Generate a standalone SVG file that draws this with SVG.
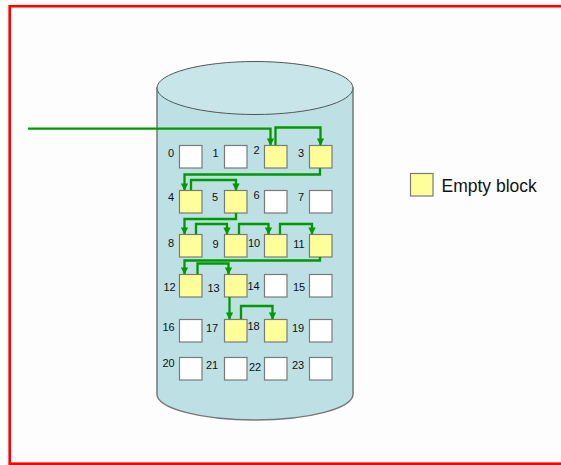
<svg xmlns="http://www.w3.org/2000/svg" width="561" height="465" viewBox="0 0 561 465">
  <defs>
    <marker id="arr" viewBox="0 0 10 10" refX="9" refY="5" markerWidth="3.2" markerHeight="3.2" orient="auto" markerUnits="strokeWidth">
      <path d="M0,0 L10,5 L0,10 Z" fill="#009900"/>
    </marker>
    <style>
      .blk { stroke: #7a7a7a; stroke-width: 1.2; }
      .free { fill: #ffffff; }
      .empty { fill: #ffff99; }
      .num { font-family: "Liberation Sans", Arial, sans-serif; font-size: 11px; fill: #111; text-anchor: middle; }
      .lnk { fill: none; stroke: #009900; stroke-width: 2.3; stroke-linejoin: miter; }
      .lnka { fill: none; stroke: #009900; stroke-width: 2.3; marker-end: url(#arr); }
    </style>
  </defs>

  <!-- frame -->
  <rect x="0" y="0" width="561" height="465" fill="#ffffff"/>
  <rect x="9.7" y="6.2" width="560" height="457.5" fill="#fdfdfd" stroke="#ff0000" stroke-width="2.6"/>

  <!-- disk cylinder -->
  <g id="disk">
    <path d="M157,88 L157,394 A98,26 0 0 0 353,394 L353,88 Z" fill="#bce0e4" stroke="#777" stroke-width="1.5"/>
    <ellipse cx="255" cy="88" rx="98" ry="26.5" fill="#c8e6e9" stroke="#555" stroke-width="1"/>
  </g>

  <!-- blocks -->
  <g id="b0"><rect class="blk free" x="179.5" y="145.5" width="22.5" height="22.5"/><text class="num" x="171" y="157">0</text></g>
  <g id="b1"><rect class="blk free" x="224.5" y="145.5" width="22.5" height="22.5"/><text class="num" x="215.5" y="157">1</text></g>
  <g id="b2"><rect class="blk empty" x="264.5" y="145.5" width="22.5" height="22.5"/><text class="num" x="256.5" y="154">2</text></g>
  <g id="b3"><rect class="blk empty" x="309.5" y="145.5" width="22.5" height="22.5"/><text class="num" x="301" y="157">3</text></g>

  <g id="b4"><rect class="blk empty" x="179.5" y="190.5" width="22.5" height="22.5"/><text class="num" x="171" y="201">4</text></g>
  <g id="b5"><rect class="blk empty" x="224.5" y="190.5" width="22.5" height="22.5"/><text class="num" x="215" y="201">5</text></g>
  <g id="b6"><rect class="blk free" x="264.5" y="190.5" width="22.5" height="22.5"/><text class="num" x="256.5" y="199">6</text></g>
  <g id="b7"><rect class="blk free" x="309.5" y="190.5" width="22.5" height="22.5"/><text class="num" x="301" y="201">7</text></g>

  <g id="b8"><rect class="blk empty" x="179.5" y="234.5" width="22.5" height="22.5"/><text class="num" x="171" y="247">8</text></g>
  <g id="b9"><rect class="blk empty" x="224.5" y="234.5" width="22.5" height="22.5"/><text class="num" x="215.5" y="248">9</text></g>
  <g id="b10"><rect class="blk empty" x="264.5" y="234.5" width="22.5" height="22.5"/><text class="num" x="254" y="247">10</text></g>
  <g id="b11"><rect class="blk empty" x="309.5" y="234.5" width="22.5" height="22.5"/><text class="num" x="299" y="248">11</text></g>

  <g id="b12"><rect class="blk empty" x="179.5" y="274.5" width="22.5" height="22.5"/><text class="num" x="169.5" y="291">12</text></g>
  <g id="b13"><rect class="blk empty" x="224.5" y="274.5" width="22.5" height="22.5"/><text class="num" x="213.5" y="291.5">13</text></g>
  <g id="b14"><rect class="blk free" x="264.5" y="274.5" width="22.5" height="22.5"/><text class="num" x="253.5" y="290">14</text></g>
  <g id="b15"><rect class="blk free" x="309.5" y="274.5" width="22.5" height="22.5"/><text class="num" x="299" y="291">15</text></g>

  <g id="b16"><rect class="blk free" x="179.5" y="319.5" width="22.5" height="22.5"/><text class="num" x="168.5" y="330.5">16</text></g>
  <g id="b17"><rect class="blk empty" x="224.5" y="319.5" width="22.5" height="22.5"/><text class="num" x="212" y="332">17</text></g>
  <g id="b18"><rect class="blk empty" x="264.5" y="319.5" width="22.5" height="22.5"/><text class="num" x="253.5" y="330">18</text></g>
  <g id="b19"><rect class="blk free" x="309.5" y="319.5" width="22.5" height="22.5"/><text class="num" x="298" y="332">19</text></g>

  <g id="b20"><rect class="blk free" x="179.5" y="357.5" width="22.5" height="22.5"/><text class="num" x="168.5" y="367">20</text></g>
  <g id="b21"><rect class="blk free" x="224.5" y="357.5" width="22.5" height="22.5"/><text class="num" x="212" y="369">21</text></g>
  <g id="b22"><rect class="blk free" x="264.5" y="357.5" width="22.5" height="22.5"/><text class="num" x="255" y="371">22</text></g>
  <g id="b23"><rect class="blk free" x="309.5" y="357.5" width="22.5" height="22.5"/><text class="num" x="298" y="369">23</text></g>

  <!-- free-list links -->
  <g id="links">
    <path class="lnka" d="M28,128.7 L270.5,128.7 L270.5,145"/>
    <path class="lnka" d="M275.5,145 L275.5,127.5 L320.5,127.5 L320.5,145"/>
    <path class="lnka" d="M320,168 L320,174.5 L184.5,174.5 L184.5,190"/>
    <path class="lnka" d="M191,190 L191,180 L236,180 L236,190"/>
    <path class="lnka" d="M236,213 L236,219 L184.5,219 L184.5,234"/>
    <path class="lnka" d="M196,234 L196,224 L227,224 L227,234"/>
    <path class="lnka" d="M239,234 L239,224 L268.5,224 L268.5,234"/>
    <path class="lnka" d="M280,234 L280,224 L312,224 L312,234"/>
    <path class="lnka" d="M320,257 L320,260.5 L184.5,260.5 L184.5,274"/>
    <path class="lnka" d="M197.5,274 L197.5,263.5 L228.5,263.5 L228.5,274"/>
    <path class="lnka" d="M229.5,297 L229.5,319"/>
    <path class="lnka" d="M241,319 L241,306 L272.5,306 L272.5,319"/>
  </g>

  <!-- legend -->
  <g id="legend">
    <rect class="blk empty" x="410.5" y="173.5" width="22.5" height="22.5"/>
    <text x="441.5" y="191.5" font-family="'Liberation Sans', Arial, sans-serif" font-size="17.5" fill="#111">Empty block</text>
  </g>
</svg>
